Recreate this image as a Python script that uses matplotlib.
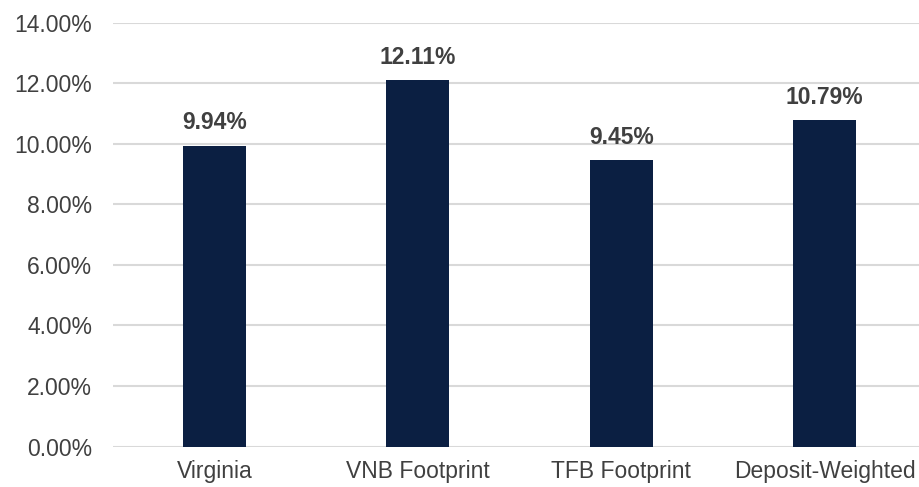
import matplotlib.pyplot as plt
from matplotlib.ticker import FuncFormatter

# dati
categories = ["Virginia", "VNB Footprint", "TFB Footprint", "Deposit-Weighted"]
values = [9.94, 12.11, 9.45, 10.79]
labels = ["9.94%", "12.11%", "9.45%", "10.79%"]

bar_color = "#0B1F42"
text_color = "#404040"

plt.rcParams['font.family'] = ['Liberation Sans', 'DejaVu Sans']

fig = plt.figure(figsize=(9.2, 4.87), dpi=100)
ax = fig.add_axes([113 / 920, 40.5 / 487, 1 - 113 / 920, (446.5 - 22.7) / 487])

x = range(len(categories))
bars = ax.bar(x, values, width=0.31, color=bar_color, zorder=3)

for b, lab in zip(bars, labels):
    ax.annotate(lab, (b.get_x() + b.get_width() / 2, b.get_height()),
                xytext=(0, 8), textcoords="offset points", ha="center", va="bottom",
                fontsize=16.5, fontweight="bold", color=text_color)

ax.set_ylim(0, 14)
ax.set_yticks([0, 2, 4, 6, 8, 10, 12, 14])
ax.yaxis.set_major_formatter(FuncFormatter(lambda v, p: f"{v:.2f}%"))
ax.set_xlim(-0.5, 3.47)
ax.set_xticks(list(x))
ax.set_xticklabels(categories)

ax.grid(axis="y", color="#D9D9D9", linewidth=1.5, zorder=0)
for s in ax.spines.values():
    s.set_visible(False)
ax.tick_params(axis="both", length=0, labelsize=16.5, colors=text_color)
ax.tick_params(axis="y", pad=15)
ax.tick_params(axis="x", pad=10)

plt.savefig("out.png", dpi=100)
